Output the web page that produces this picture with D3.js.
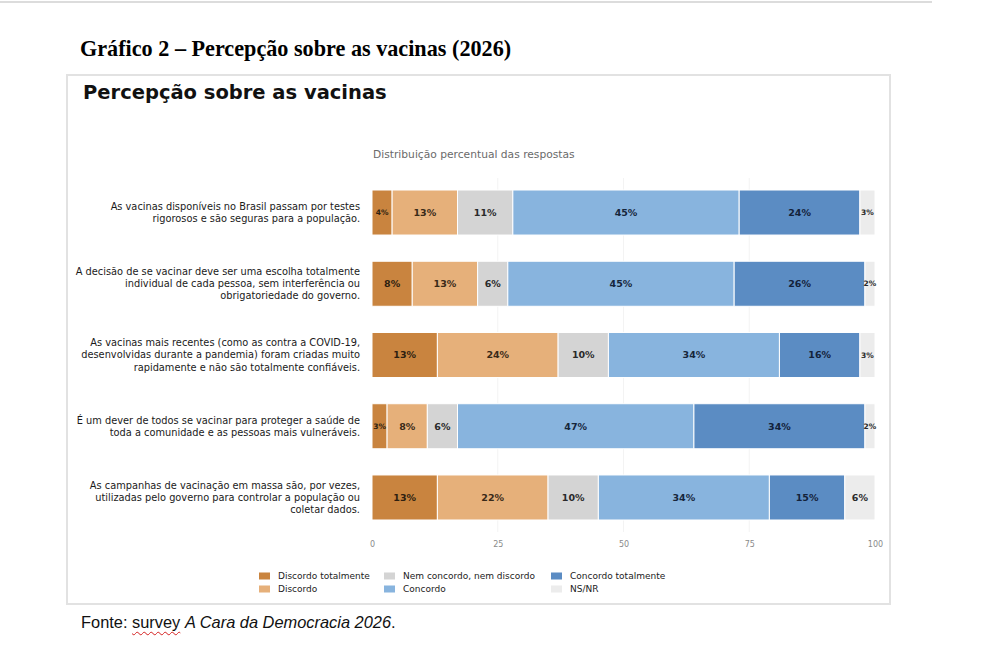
<!DOCTYPE html>
<html>
<head>
<meta charset="utf-8">
<title>Percepção sobre as vacinas</title>
<script src="https://cdn.jsdelivr.net/npm/d3@7/dist/d3.min.js"></script>
<style>
  body { margin: 0; background: #fff; }
  #wrap { position: relative; width: 984px; height: 653px; overflow: hidden; }
  svg { position: absolute; left: 0; top: 0; }
  #fonte {
    position: absolute; left: 81px; top: 613px;
    font-family: "Liberation Sans", Arial, sans-serif; font-size: 16.4px; color: #111;
  }
  #fonte .sp { text-decoration: underline wavy #d42020; text-decoration-thickness: 1px; text-underline-offset: 3px; }
</style>
</head>
<body>
<div id="wrap">
  <div id="chart"></div>
  <div id="fonte">Fonte: <span class="sp">survey</span> <i>A Cara da Democracia 2026</i>.</div>
</div>

<script>
    var questions = [
        'As vacinas disponíveis no Brasil passam por testes\nrigorosos e são seguras para a população.',
        'A decisão de se vacinar deve ser uma escolha totalmente\nindividual de cada pessoa, sem interferência ou\nobrigatoriedade do governo.',
        'As vacinas mais recentes (como as contra a COVID-19,\ndesenvolvidas durante a pandemia) foram criadas muito\nrapidamente e não são totalmente confiáveis.',
        'É um dever de todos se vacinar para proteger a saúde de\ntoda a comunidade e as pessoas mais vulneráveis.',
        'As campanhas de vacinação em massa são, por vezes,\nutilizadas pelo governo para controlar a população ou\ncoletar dados.'
    ];

    var answers = ['Discordo totalmente', 'Discordo', 'Nem concordo, nem discordo', 'Concordo', 'Concordo totalmente', 'NS/NR'];

    // one array per answer, in question order
    var discordoTotalmente = [4, 8, 13, 3, 13];
    var discordo = [13, 13, 24, 8, 22];
    var nem = [11, 6, 10, 6, 10];
    var concordo = [45, 45, 34, 47, 34];
    var concordoTotalmente = [24, 26, 16, 34, 15];
    var nsnr = [3, 2, 3, 2, 6];

    var xTicks = [0, 25, 50, 75, 100];

    var colors = ['#c9843f', '#e6b07a', '#d4d4d4', '#88b4de', '#5b8cc3', '#ececec'];
    var labelColors = ['#2e1f10', '#3a2a18', '#2a2a2a', '#16263c', '#13223a', '#2a2a2a'];

    var series = [discordoTotalmente, discordo, nem, concordo, concordoTotalmente, nsnr];

    var rows = questions.map((q, i) => {
        var r = { q: q };
        answers.forEach((a, j) => { r[a] = series[j][i]; });
        return r;
    });

    var stacked = d3.stack().keys(answers)(rows);

    var svg = d3.select('#chart')
        .append('svg')
        .attr('width', 984)
        .attr('height', 653);

    // page rule + figure caption
    svg.append('line')
        .attr('x1', 0).attr('x2', 932).attr('y1', 2).attr('y2', 2)
        .attr('stroke', '#dcdcdc').attr('stroke-width', 2);

    svg.append('text')
        .attr('x', 80).attr('y', 56)
        .attr('font-family', '"Liberation Serif", "Times New Roman", serif')
        .attr('font-weight', 'bold')
        .attr('font-size', 22.2)
        .attr('fill', '#000')
        .text('Gráfico 2 – Percepção sobre as vacinas (2026)');

    // chart frame
    svg.append('rect')
        .attr('x', 67).attr('y', 75).attr('width', 823).attr('height', 529)
        .attr('fill', '#fff').attr('stroke', '#e2e2e2').attr('stroke-width', 2);

    var font = '"DejaVu Sans", Verdana, sans-serif';

    svg.append('text')
        .attr('x', 83).attr('y', 99)
        .attr('font-family', font).attr('font-weight', 'bold').attr('font-size', 19.5)
        .attr('fill', '#111')
        .text('Percepção sobre as vacinas');

    svg.append('text')
        .attr('x', 373).attr('y', 158)
        .attr('font-family', font).attr('font-size', 10.7)
        .attr('fill', '#6a6a6a')
        .text('Distribuição percentual das respostas');

    var x = d3.scaleLinear().domain([0, 100]).range([372, 875]);
    var y = d3.scaleBand()
        .domain(questions)
        .range([176.9, 533.1])
        .paddingInner(0.368)
        .paddingOuter(0.184);

    // faint grid
    svg.append('g')
        .selectAll('line')
        .data(xTicks.slice(1, -1))
        .join('line')
        .attr('x1', d => x(d)).attr('x2', d => x(d))
        .attr('y1', 178).attr('y2', 532)
        .attr('stroke', '#f3f3f3').attr('stroke-width', 1);

    // bars
    var layer = svg.append('g')
        .selectAll('g')
        .data(stacked)
        .join('g')
        .attr('fill', (d, i) => colors[i]);

    layer.selectAll('rect')
        .data(d => d)
        .join('rect')
        .attr('x', d => x(d[0]))
        .attr('y', d => y(d.data.q))
        .attr('width', d => x(d[1]) - x(d[0]))
        .attr('height', y.bandwidth())
        .attr('stroke', '#fff')
        .attr('stroke-width', 1);

    // value labels
    stacked.forEach((s, i) => {
        svg.append('g')
            .selectAll('text')
            .data(s)
            .join('text')
            .attr('x', d => x((d[0] + d[1]) / 2))
            .attr('y', d => y(d.data.q) + y.bandwidth() / 2)
            .attr('dy', '0.35em')
            .attr('text-anchor', 'middle')
            .attr('font-family', font)
            .attr('font-weight', 'bold')
            .attr('font-size', d => (d[1] - d[0]) < 5 ? 7.5 : 9.5)
            .attr('fill', labelColors[i])
            .text(d => Math.round(d[1] - d[0]) + '%');
    });

    // category labels
    var yLab = svg.append('g')
        .selectAll('text')
        .data(questions)
        .join('text')
        .attr('text-anchor', 'end')
        .attr('font-family', font)
        .attr('font-size', 9.8)
        .attr('fill', '#1a1a1a');

    yLab.each(function (q) {
        var lines = q.split('\n');
        var lh = 12.3;
        var cy = y(q) + y.bandwidth() / 2;
        var top = cy - (lines.length - 1) * lh / 2;
        d3.select(this)
            .selectAll('tspan')
            .data(lines)
            .join('tspan')
            .attr('x', 360)
            .attr('y', (d, k) => top + k * lh)
            .attr('dy', '0.35em')
            .text(d => d);
    });

    // x axis (labels only)
    var xAxis = svg.append('g')
        .attr('transform', 'translate(0,539)')
        .call(d3.axisBottom(x).tickValues(xTicks).tickSize(0).tickPadding(2));
    xAxis.select('.domain').remove();
    xAxis.selectAll('text')
        .attr('font-family', font)
        .attr('font-size', 8)
        .attr('fill', '#8a8a8a');

    // legend
    var legX = [259, 384, 551];
    var legY = [576, 589];
    var legend = svg.append('g')
        .selectAll('g')
        .data(answers)
        .join('g')
        .attr('transform', (d, i) => `translate(${legX[Math.floor(i / 2)]},${legY[i % 2]})`);

    legend.append('rect')
        .attr('x', 0).attr('y', -3.5)
        .attr('width', 11).attr('height', 7)
        .attr('fill', (d, i) => colors[i]);

    legend.append('text')
        .attr('x', 19).attr('y', 0)
        .attr('dy', '0.35em')
        .attr('font-family', font)
        .attr('font-size', 9)
        .attr('fill', '#222')
        .text(d => d);
</script>
</body>
</html>
